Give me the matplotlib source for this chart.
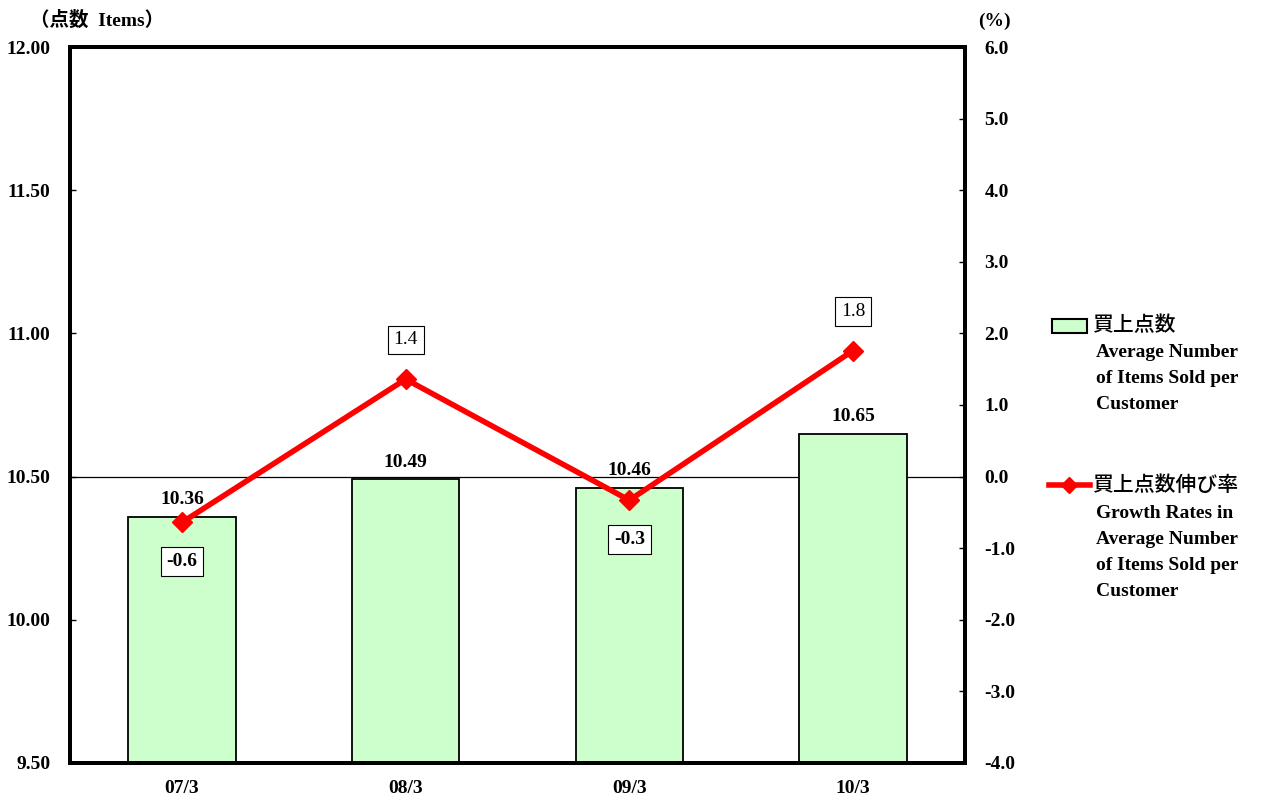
import matplotlib.pyplot as plt
from matplotlib.lines import Line2D
from matplotlib.patches import Rectangle

plt.rcParams['font.family'] = ['Liberation Serif', 'Noto Sans CJK JP']
plt.rcParams['font.weight'] = 'bold'

periods = ["07/3", "08/3", "09/3", "10/3"]
items = [10.36, 10.49, 10.46, 10.65]
growth = [-0.64, 1.36, -0.33, 1.76]
base = 9.5

fig = plt.figure(figsize=(12.64, 8.05), dpi=100)
ax = fig.add_axes([0.0554, 0.0522, 0.7080, 0.8894])
ax2 = ax.twinx()

x = list(range(len(periods)))
ax.bar(x, [v - base for v in items], width=0.48, bottom=base, color="#ccffcc",
       edgecolor="black", linewidth=1.3, zorder=2)
ax.set_ylim(9.5, 12.0)
ax.set_xlim(-0.5, 3.5)
ax.axhline(10.5, color="black", linewidth=0.9, zorder=1)
left_ticks = [9.5, 10.0, 10.5, 11.0, 11.5, 12.0]
ax.set_yticks(left_ticks)
ax.set_yticklabels([f"{v:.2f}" for v in left_ticks])
ax.set_xticks(x)
ax.set_xticklabels(periods)

for i, v in enumerate(items):
    ax.text(i, v + 0.03, f"{v:.2f}", ha="center", va="bottom",
            fontsize=14, fontweight="bold", zorder=5)

ax2.plot(x, growth, color="red", linewidth=4, marker="D", markersize=10,
         zorder=4)
ax2.set_ylim(-4.0, 6.0)
ax2.set_yticks(range(-4, 7))
ax2.set_yticklabels([f"{v:.1f}" for v in range(-4, 7)])

for i, g in enumerate(growth):
    if g >= 0:
        yy, fw = g + 0.55, "normal"
    else:
        yy, fw = g - 0.55, "bold"
    ax2.text(i, yy, f"{g:.1f}", ha="center", va="center", fontsize=14, fontweight=fw,
             bbox=dict(boxstyle="square,pad=0.3", facecolor="white",
                       edgecolor="black", linewidth=0.8), zorder=6)

for a in (ax, ax2):
    for s in a.spines.values():
        s.set_linewidth(2.8)
    a.tick_params(direction="in", length=4, width=1, labelsize=14)
ax.tick_params(axis="x", length=0, pad=12)
ax.tick_params(axis="y", pad=14)
ax2.tick_params(axis="y", pad=14)
ax.set_zorder(ax2.get_zorder() - 1)
ax2.patch.set_visible(False)

fig.text(0.024, 0.975, "（点数  Items）", fontsize=14, fontweight="bold",
         ha="left", va="center")
fig.text(0.774, 0.974, "(%)", fontsize=14, fontweight="bold", ha="left", va="center")

# legend
fig.patches.append(Rectangle((0.832, 0.586), 0.028, 0.018, transform=fig.transFigure,
                             facecolor="#ccffcc", edgecolor="black", linewidth=1.5))
fig.text(0.864, 0.596, "買上点数", fontsize=15, fontweight="medium",
         family=["Noto Sans CJK JP"], va="center")
fig.text(0.867, 0.573, "Average Number\nof Items Sold per\nCustomer",
         fontsize=14, fontweight="bold", va="top", linespacing=1.7)

fig.lines.append(Line2D([0.830, 0.846, 0.862], [0.398, 0.398, 0.398],
                        transform=fig.transFigure, color="red", linewidth=4,
                        marker="D", markersize=8, markevery=[1]))
fig.text(0.864, 0.398, "買上点数伸び率", fontsize=15, fontweight="medium",
         family=["Noto Sans CJK JP"], va="center")
fig.text(0.867, 0.373, "Growth Rates in\nAverage Number\nof Items Sold per\nCustomer",
         fontsize=14, fontweight="bold", va="top", linespacing=1.7)

fig.savefig("out.png", dpi=100)
